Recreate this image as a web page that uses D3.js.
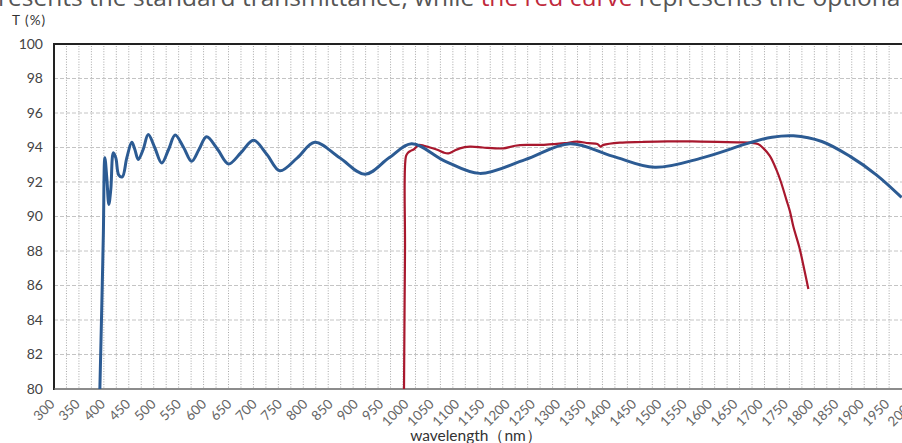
<!DOCTYPE html>
<html>
<head>
<script src="https://d3js.org/d3.v7.min.js"></script>
<style>
	body { margin: 0; background: #fff; }
	svg { display: block; }
</style>
</head>
<body>
<script>

// standard coating (blue), wavelength nm / T %
const blueWl = [392, 396, 399, 402, 406, 410, 414, 419, 424, 430, 437, 446, 456, 462, 469, 479, 489, 502, 516, 530, 543, 560, 576, 591, 606, 628, 650, 675, 700, 727, 753, 788, 823, 873, 924, 972, 1017, 1085, 1154, 1245, 1335, 1420, 1505, 1600, 1696, 1740, 1783, 1840, 1896, 1950, 2000];
const blueT  = [80, 85, 89, 93.4, 92.2, 90.7, 91.6, 93.7, 93.4, 92.4, 92.3, 93.4, 94.3, 93.9, 93.3, 93.9, 94.75, 94.0, 93.1, 93.9, 94.72, 94.0, 93.2, 93.9, 94.62, 93.9, 93.05, 93.7, 94.42, 93.6, 92.65, 93.4, 94.3, 93.4, 92.45, 93.4, 94.22, 93.2, 92.5, 93.3, 94.22, 93.5, 92.85, 93.4, 94.28, 94.6, 94.68, 94.35, 93.5, 92.4, 91.1];

// optional coating (red)
const redWl = [1002, 1004, 1006, 1010, 1015, 1022, 1031, 1042, 1054, 1070, 1082, 1091, 1102, 1114, 1134, 1160, 1185, 1201, 1225, 1248, 1275, 1301, 1325, 1348, 1372, 1390, 1396, 1402, 1435, 1480, 1530, 1580, 1630, 1670, 1696, 1712, 1723, 1736, 1749, 1758, 1769, 1776, 1783, 1795, 1805, 1813];
const redT  = [80, 88, 93.5, 93.7, 93.8, 93.9, 94.14, 94.1, 94.0, 93.85, 93.7, 93.66, 93.8, 93.95, 94.05, 94.0, 93.95, 93.95, 94.1, 94.15, 94.15, 94.2, 94.25, 94.34, 94.25, 94.2, 94.05, 94.15, 94.28, 94.32, 94.35, 94.35, 94.33, 94.3, 94.28, 94.2, 93.95, 93.5, 92.7, 92.0, 90.96, 90.3, 89.4, 88.2, 86.9, 85.8];

const xTicks = d3.range(300, 2001, 50);
const yTicks = d3.range(80, 101, 2);

const W = 902, H = 443;
const svg = d3.select("body").append("svg").attr("width", W).attr("height", H);

const x = d3.scaleLinear().domain([300, 2000]).range([54, 901.6]);
const y = d3.scaleLinear().domain([80, 100]).range([389, 44]);
// the tick labels in the source drift slightly to the right of the grid
const xLab = d3.scaleLinear().domain([300, 2000]).range([55, 915]);

// cropped caption at the top
const cap = svg.append("text")
	.attr("x", -2).attr("y", 6)
	.style("font-family", "Open Sans, sans-serif")
	.style("font-size", "24.5px")
	.attr("fill", "#555");
cap.append("tspan").text("resents the standard transmittance, while ");
cap.append("tspan").attr("fill", "#c0283c").text("the red curve");
cap.append("tspan").text(" represents the optional");

svg.append("text")
	.attr("x", 12).attr("y", 25)
	.style("font-family", "Lato, sans-serif")
	.style("font-size", "13.5px")
	.style("letter-spacing", "1px")
	.attr("fill", "#333")
	.text("T (%)");

// vertical dotted grid every 25 nm
const g = svg.append("g");
g.selectAll(".vg")
	.data(d3.range(325, 2000, 25))
	.enter().append("line")
	.attr("x1", d => x(d)).attr("x2", d => x(d))
	.attr("y1", 46).attr("y2", 389)
	.attr("stroke", "#a8a8a8")
	.attr("stroke-width", 1)
	.attr("stroke-dasharray", "1 1.6");

// horizontal dashed grid
g.selectAll(".hg")
	.data(yTicks.filter(d => d > 80 && d < 100))
	.enter().append("line")
	.attr("x1", 54).attr("x2", W)
	.attr("y1", d => y(d)).attr("y2", d => y(d))
	.attr("stroke", "#c4c4c4")
	.attr("stroke-width", 1)
	.attr("stroke-dasharray", "4 2");

// frame
svg.append("line").attr("x1", 54).attr("x2", W).attr("y1", 44).attr("y2", 44)
	.attr("stroke", "#222").attr("stroke-width", 2);
svg.append("line").attr("x1", 54).attr("x2", 54).attr("y1", 43).attr("y2", 390)
	.attr("stroke", "#222").attr("stroke-width", 2);
svg.append("line").attr("x1", 54).attr("x2", W).attr("y1", 389).attr("y2", 389)
	.attr("stroke", "#666").attr("stroke-width", 1.5);

// y axis labels
const yAxis = d3.axisLeft(y).tickValues(yTicks).tickSize(0).tickPadding(11);
svg.append("g")
	.attr("transform", "translate(54,0)")
	.call(yAxis)
	.call(a => a.select(".domain").remove())
	.selectAll("text")
		.style("font-family", "Lato, sans-serif")
		.style("font-size", "14px")
		.attr("fill", "#444");

// x axis labels
const xAxis = d3.axisBottom(xLab).tickValues(xTicks).tickFormat(d3.format("d")).tickSize(0).tickPadding(0);
svg.append("g")
	.attr("transform", "translate(0,389)")
	.call(xAxis)
	.call(a => a.select(".domain").remove())
	.selectAll("text")
		.attr("text-anchor", "end")
		.attr("dy", null)
		.attr("transform", "translate(0,16) rotate(-45)")
		.style("font-family", "Lato, sans-serif")
		.style("font-size", "13.5px")
		.attr("fill", "#666");

svg.append("text")
	.attr("x", 476).attr("y", 441)
	.attr("text-anchor", "middle")
	.style("font-family", "Lato, sans-serif")
	.style("font-size", "15.5px")
	.attr("fill", "#333")
	.text("wavelength（nm）");

const line = d3.line()
	.x(d => x(d[0]))
	.y(d => y(d[1]))
	.curve(d3.curveCatmullRom.alpha(0.5));

svg.append("clipPath").attr("id", "plot")
	.append("rect").attr("x", 54).attr("y", 44).attr("width", W - 54).attr("height", 345);

svg.append("path")
	.datum(redWl.map((d, i) => [d, redT[i]]))
	.attr("clip-path", "url(#plot)")
	.attr("fill", "none")
	.attr("stroke", "#a8182e")
	.attr("stroke-width", 2.2)
	.attr("d", line);

svg.append("path")
	.datum(blueWl.map((d, i) => [d, blueT[i]]))
	.attr("clip-path", "url(#plot)")
	.attr("fill", "none")
	.attr("stroke", "#2c5b93")
	.attr("stroke-width", 3)
	.attr("d", line);

</script>
</body>
</html>
